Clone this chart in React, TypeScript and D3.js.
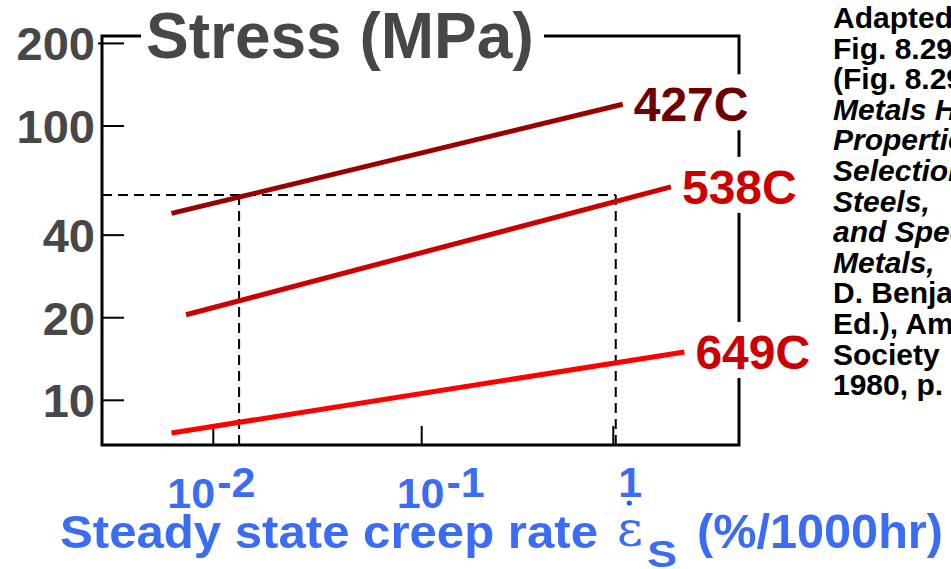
import React from "react";
import * as d3 from "d3";

// ---------- data ----------
const rateTicks = [0.01, 0.1, 1];
const rateTickBase = ["10", "10", ""];
const rateTickExp = ["-2", "-1", "1"];

const stressTicks = [200, 100, 40, 20, 10];
const stressTickLabels = ["200", "100", "40", "20", "10"];

const seriesNames = ["427C", "538C", "649C"];
const seriesRates = [
  [0.0063, 1.12],
  [0.0074, 2.0],
  [0.0063, 2.35],
];
const seriesStress = [
  [48, 120],
  [20.5, 60],
  [7.6, 15],
];

const refStress = 56;
const refRates = [0.0133, 1.03];

const creditLines = [
  "Adapted from",
  "Fig. 8.29, Callister 7e.",
  "(Fig. 8.29 is from",
  "Metals Handbook:",
  "Properties and",
  "Selection: Stainless",
  "Steels,",
  "and Special-Purpose",
  "Metals,",
  "D. Benjamin (Senior",
  "Ed.), American",
  "Society",
  "1980, p. 131.)",
];
const creditItalic = [false, false, false, true, true, true, true, true, true, false, false, false, false];

// ---------- style / layout ----------
const W = 951;
const H = 569;
const F = { left: 102, right: 739, top: 36, bottom: 445 };
const lineColors = ["#9b0000", "#cc0000", "#ff0000"];
const labelColors = ["#6e0000", "#cc0000", "#cc0000"];
const tickLabelDx = [-46, -25, 5];
const sans = "'Liberation Sans', Arial, Helvetica, sans-serif";
const blue = "#3b6cf5";
const gray = "#474747";

export default function App() {
  const xs = d3.scaleLog().domain([0.01, 0.1, 1]).range([213.3, 421.7, 613.3]);
  const ys = d3.scaleLog().domain([10, 100]).range([400.3, 126]);
  const line = d3
    .line<[number, number]>()
    .x((d) => xs(d[0]))
    .y((d) => ys(d[1]));

  const refY = ys(refStress);

  return (
    <svg
      width={W}
      height={H}
      style={{ position: "absolute", left: 0, top: 0, background: "#fff" }}
      fontFamily={sans}
    >
      <rect x={0} y={0} width={W} height={H} fill="#fff" />

      {/* frame */}
      <rect
        x={F.left}
        y={F.top}
        width={F.right - F.left}
        height={F.bottom - F.top}
        fill="none"
        stroke="#000"
        strokeWidth={3}
      />

      {/* y ticks */}
      {stressTicks.map((t, i) => (
        <g key={"yt" + i}>
          <line
            x1={i === 0 ? F.left - 4 : F.left}
            x2={F.left + 22}
            y1={ys(t)}
            y2={ys(t)}
            stroke="#000"
            strokeWidth={2}
          />
          <text
            x={F.left - 7}
            y={ys(t)}
            dy="0.36em"
            textAnchor="end"
            fontSize={47}
            fontWeight="bold"
            fill={gray}
          >
            {stressTickLabels[i]}
          </text>
        </g>
      ))}

      {/* x ticks */}
      {rateTicks.map((t, i) => (
        <g key={"xt" + i}>
          <line x1={xs(t)} x2={xs(t)} y1={F.bottom} y2={F.bottom - 19} stroke="#000" strokeWidth={2} />
          <text x={xs(t) + tickLabelDx[i]} y={508} fontSize={43} fontWeight="bold" fill={blue}>
            <tspan>{rateTickBase[i]}</tspan>
            <tspan dy={-11} dx={rateTickBase[i] ? 2 : 0}>
              {rateTickExp[i]}
            </tspan>
          </text>
        </g>
      ))}
      <circle cx={xs(1) + 16} cy={503} r={2.6} fill="#1a5ce8" />

      {/* dashed reference lines */}
      <g stroke="#000" strokeWidth={2} strokeDasharray="10,6" fill="none">
        <line x1={F.left} x2={xs(refRates[1])} y1={refY} y2={refY} />
        {refRates.map((r, i) => (
          <line key={"rv" + i} x1={xs(r)} x2={xs(r)} y1={refY} y2={F.bottom} />
        ))}
      </g>

      {/* series lines */}
      {seriesNames.map((n, i) => {
        const pts: [number, number][] = seriesRates[i].map((r, j) => [r, seriesStress[i][j]]);
        return (
          <path
            key={"s" + i}
            d={line(pts) || ""}
            stroke={lineColors[i]}
            strokeWidth={5}
            fill="none"
          />
        );
      })}

      {/* series labels */}
      {seriesNames.map((n, i) => {
        const ex = xs(seriesRates[i][1]);
        const ey = ys(seriesStress[i][1]);
        return (
          <g key={"l" + i}>
            <rect x={ex + 8} y={ey - 30} width={122} height={56} fill="#fff" />
            <text
              x={ex + 11}
              y={ey}
              dy="0.35em"
              fontSize={48}
              fontWeight="bold"
              fill={labelColors[i]}
            >
              {n}
            </text>
          </g>
        );
      })}

      {/* y title */}
      <rect x={141} y={20} width={403} height={32} fill="#fff" />
      <text x={146} y={58} fontSize={64} fontWeight="bold" fill={gray}>
        Stress (MPa)
      </text>

      {/* x title */}
      <g fill={blue} fontWeight="bold">
        <text x={60} y={548} fontSize={47} textLength={538} lengthAdjust="spacingAndGlyphs">
          Steady state creep rate
        </text>
        <text
          x={617}
          y={546}
          fontSize={50}
          fontWeight="normal"
          fontFamily="'DejaVu Serif', 'Liberation Serif', serif"
        >
          ε
        </text>
        <text x={647} y={567} fontSize={36} textLength={30} lengthAdjust="spacingAndGlyphs">
          S
        </text>
        <text x={697} y={548} fontSize={48} textLength={246} lengthAdjust="spacingAndGlyphs">
          (%/1000hr)
        </text>
      </g>

      {/* credits */}
      <text fontSize={30} fontWeight="bold" fill="#000">
        {creditLines.map((l, i) => (
          <tspan key={"c" + i} x={833} y={28 + i * 30.6} fontStyle={creditItalic[i] ? "italic" : "normal"}>
            {l}
          </tspan>
        ))}
      </text>
    </svg>
  );
}
